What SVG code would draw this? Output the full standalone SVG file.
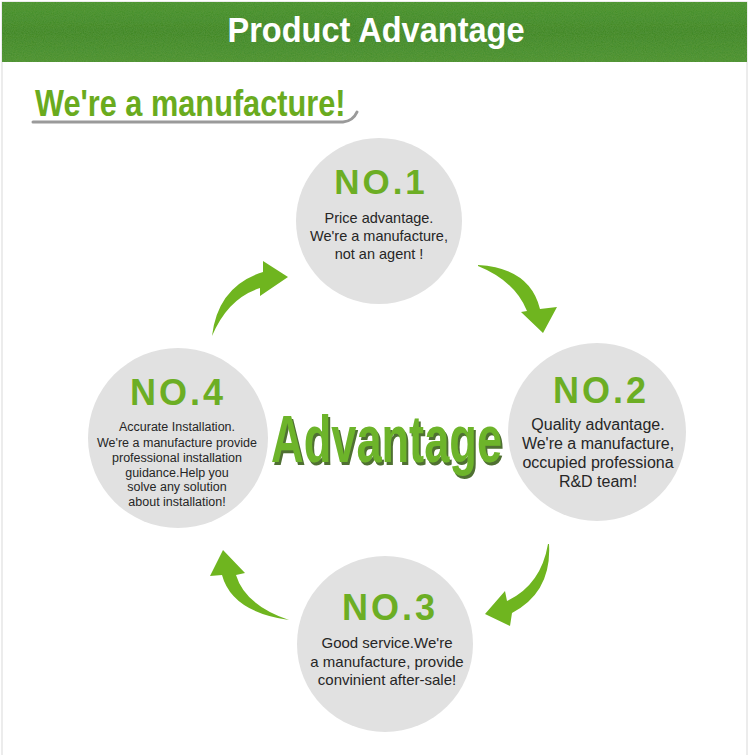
<svg xmlns="http://www.w3.org/2000/svg" width="750" height="755" viewBox="0 0 750 755">
<style>
.circ{fill:#e1e1e1}
.no{font-family:"Liberation Sans",Arial,sans-serif;font-weight:bold;fill:#6cae24;text-anchor:middle;letter-spacing:3px}
.body{font-family:"Liberation Sans",Arial,sans-serif;fill:#262626;text-anchor:middle}
.arrow{fill:#6fb51f}
</style>
<defs>
<linearGradient id="grass" x1="0" y1="0" x2="0" y2="1">
<stop offset="0" stop-color="#45902a"/>
<stop offset="0.5" stop-color="#3a8422"/>
<stop offset="1" stop-color="#478f2d"/>
</linearGradient>
<filter id="noise" x="0" y="0" width="1" height="1">
<feTurbulence type="fractalNoise" baseFrequency="0.9" numOctaves="2" seed="3" result="n"/>
<feColorMatrix in="n" type="matrix" values="0 0 0 0 0.2  0 0 0 0 0.45  0 0 0 0 0.1  0 0 0 0.35 0" result="c"/>
<feComposite in="c" in2="SourceGraphic" operator="in" result="m"/>
<feMerge><feMergeNode in="SourceGraphic"/><feMergeNode in="m"/></feMerge>
</filter>
<filter id="shadow" x="-5%" y="-10%" width="115%" height="130%">
<feOffset in="SourceAlpha" dx="3" dy="3" result="o"/>
<feFlood flood-color="#4f6f33"/>
<feComposite in2="o" operator="in" result="s"/>
<feMerge><feMergeNode in="s"/><feMergeNode in="SourceGraphic"/></feMerge>
</filter>
</defs>
<rect x="0" y="0" width="750" height="755" fill="#ffffff"/>
<rect x="2" y="2" width="745" height="760" fill="none" stroke="#d9d9d9" stroke-width="1"/>
<g id="header">
<rect x="2" y="2" width="745" height="60" fill="url(#grass)" filter="url(#noise)"/>
<text transform="translate(376,42) scale(0.93,1)" font-family="'Liberation Sans',Arial,sans-serif" font-weight="bold" font-size="35" fill="#ffffff" text-anchor="middle">Product Advantage</text>
</g>
<g id="subtitle">
<text transform="translate(35,116) scale(0.83,1)" font-family="'Liberation Sans',Arial,sans-serif" font-weight="bold" font-size="37" fill="#6aab1e">We're a manufacture!</text>
<path d="M33,122 L343,122 Q353,121 357,112" fill="none" stroke="#9a9a9a" stroke-width="3" stroke-linecap="round"/>
</g>
<g id="node1">
<circle class="circ" cx="379" cy="221" r="83"/>
<text class="no" x="381" y="194" font-size="35">NO.1</text>
<text class="body" x="379" y="223" font-size="14.5">Price advantage.</text>
<text class="body" x="379" y="241" font-size="14.5">We're a manufacture,</text>
<text class="body" x="379" y="259" font-size="14.5">not an agent !</text>
</g>
<g id="node2">
<circle class="circ" cx="597" cy="432" r="89"/>
<text class="no" x="601" y="403" font-size="36">NO.2</text>
<text class="body" x="598" y="430" font-size="16">Quality advantage.</text>
<text class="body" x="598" y="449" font-size="16">We're a manufacture,</text>
<text class="body" x="598" y="468" font-size="16">occupied professiona</text>
<text class="body" x="598" y="487" font-size="16">R&amp;D team!</text>
</g>
<g id="node3">
<circle class="circ" cx="385" cy="644" r="88"/>
<text class="no" x="390" y="620" font-size="36">NO.3</text>
<text class="body" x="387" y="648" font-size="15">Good service.We're</text>
<text class="body" x="387" y="667" font-size="15">a manufacture, provide</text>
<text class="body" x="387" y="685" font-size="15">convinient after-sale!</text>
</g>
<g id="node4">
<circle class="circ" cx="178" cy="438" r="90"/>
<text class="no" x="178" y="405" font-size="36">NO.4</text>
<text class="body" x="177" y="431" font-size="12.5">Accurate Installation.</text>
<text class="body" x="177" y="447" font-size="12.5">We're a manufacture provide</text>
<text class="body" x="177" y="462" font-size="12.5">professional installation</text>
<text class="body" x="177" y="477" font-size="12.5">guidance.Help  you</text>
<text class="body" x="177" y="491" font-size="12.5">solve any solution</text>
<text class="body" x="177" y="506" font-size="12.5">about installation!</text>
</g>
<g id="center-label">
<text transform="translate(271,462) scale(0.685,1)" font-family="'Liberation Sans',Arial,sans-serif" font-weight="bold" font-size="66" fill="#6db42a" filter="url(#shadow)">Advantage</text>
</g>
<g id="connectors">
<path class="arrow" d="M212,336 Q218,286 263,272 L263,261 L288,277 L260,296 L260,288 Q228,298 212,336 Z"/>
<path class="arrow" d="M478,265 Q530,268 540,309 L557,307 L543,333 L521,312 L527,311 Q515,281 478,266 Z"/>
<path class="arrow" d="M549,544 Q552,592 512,613 L510,626 L485,614 L505,591 L507,601 Q541,585 548,544 Z"/>
<path class="arrow" d="M289,620 Q232,612 222,575 L210,576 L223,550 L245,573 L236,575 Q245,605 289,620 Z"/>
</g>
</svg>
